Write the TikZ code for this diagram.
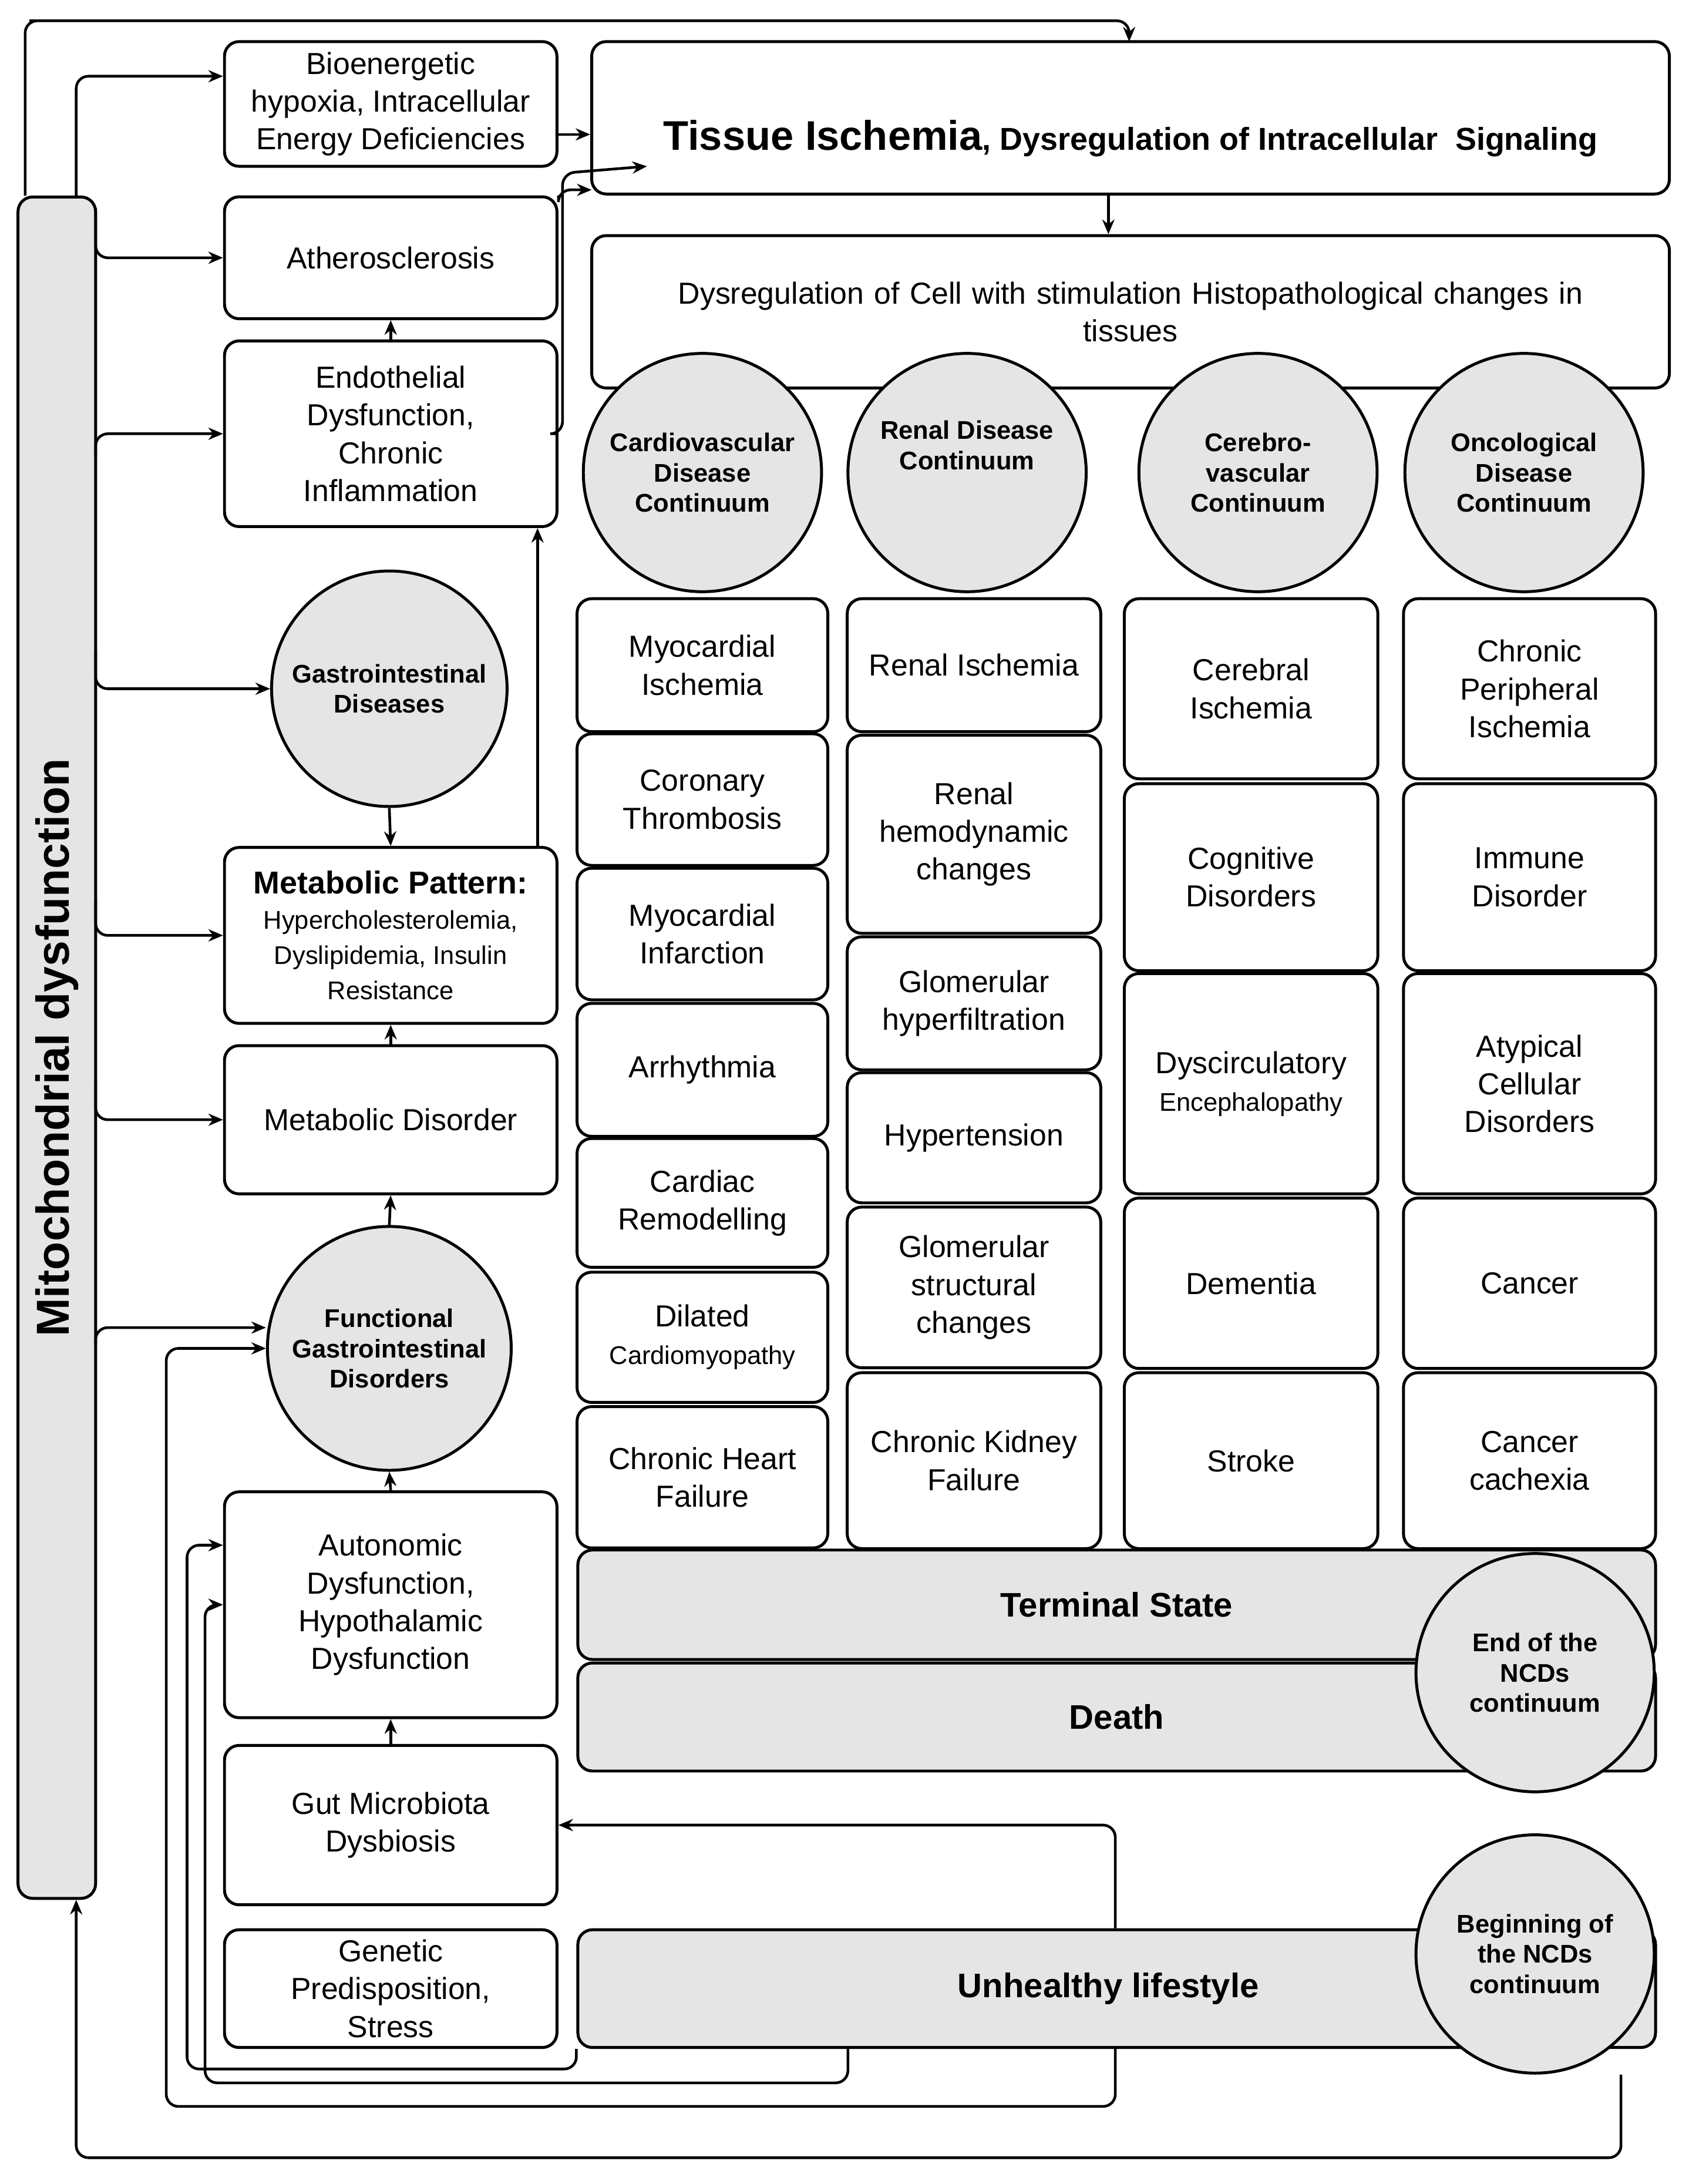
\documentclass[tikz,border=0pt]{standalone}
\usepackage{fontspec}
\setmainfont{Liberation Sans}
\usetikzlibrary{arrows.meta}
\begin{document}
\begin{tikzpicture}[x=0.02cm,y=-0.02cm,
  box/.style={draw,rounded corners=6pt,line width=1.2pt,align=center,inner sep=1pt,font=\fontsize{12.5}{15.5}\selectfont},
  gbox/.style={box,fill=gray!20},
  circ/.style={circle,draw,line width=1.2pt,fill=gray!20,align=center,inner sep=0pt,font=\fontsize{10.5}{12.5}\selectfont\bfseries},
  arr/.style={-{Stealth[length=6pt,width=5pt]},line width=1.1pt,rounded corners=5pt}]
\useasboundingbox (0,0) rectangle (1219,1576);
% mitochondrial bar
\node[gbox,minimum width=1.12cm,minimum height=24.56cm] (mito) at (41,756) {};
\node[rotate=90,font=\fontsize{19}{22}\selectfont\bfseries] at (41,756) {Mitochondrial dysfunction};
% left column
\node[box,minimum width=4.8cm,minimum height=1.8cm] (bio) at (282,75) {Bioenergetic\\hypoxia, Intracellular\\Energy Deficiencies};
\node[box,minimum width=4.8cm,minimum height=1.76cm] (ath) at (282,186) {Atherosclerosis};
\node[box,minimum width=4.8cm,minimum height=2.68cm] (endo) at (282,313) {Endothelial\\Dysfunction,\\Chronic\\Inflammation};
\node[circ,minimum size=3.4cm] (gi) at (281,497) {Gastrointestinal\\Diseases};
\node[box,minimum width=4.8cm,minimum height=2.54cm] (mp) at (282,675) {{\fontsize{13}{15}\selectfont\bfseries Metabolic Pattern:}\\[-1pt]{\fontsize{10.5}{11}\selectfont Hypercholesterolemia,}\\[-1pt]{\fontsize{10.5}{11}\selectfont Dyslipidemia, Insulin}\\[-1pt]{\fontsize{10.5}{11}\selectfont Resistance}};
\node[box,minimum width=4.8cm,minimum height=2.14cm] (md) at (282,808) {Metabolic Disorder};
\node[circ,minimum size=3.52cm] (fgi) at (281,973) {Functional\\Gastrointestinal\\Disorders};
\node[box,minimum width=4.8cm,minimum height=3.26cm] (auto) at (282,1158) {Autonomic\\Dysfunction,\\Hypothalamic\\Dysfunction};
\node[box,minimum width=4.8cm,minimum height=2.3cm] (gut) at (282,1317) {Gut Microbiota\\Dysbiosis};
\node[box,minimum width=4.8cm,minimum height=1.7cm] (gen) at (282,1435) {Genetic\\Predisposition,\\Stress};
% top boxes
\node[box,minimum width=15.56cm,minimum height=2.2cm] (tis) at (816,85) {};
\node[font=\fontsize{13}{15}\selectfont\bfseries] at (816,100) {{\fontsize{17}{20}\selectfont Tissue Ischemia}, Dysregulation of Intracellular\ \ Signaling};
\node[box,minimum width=15.56cm,minimum height=2.2cm] (dys) at (816,225) {};
\node[font=\fontsize{12.5}{15.5}\selectfont,align=center,text width=15.2cm] at (816,225) {Dysregulation of Cell with stimulation Histopathological changes in\\tissues};
% circles
\node[circ,minimum size=3.44cm] (c1) at (507,341) {Cardiovascular\\Disease\\Continuum};
\node[circ,minimum size=3.44cm] (c2) at (698,341) {Renal Disease\\Continuum\\[10pt]};
\node[circ,minimum size=3.44cm] (c3) at (908,341) {Cerebro-\\vascular\\Continuum};
\node[circ,minimum size=3.44cm] (c4) at (1100,341) {Oncological\\Disease\\Continuum};
% column 1
\node[box,minimum width=3.62cm,minimum height=1.92cm] (a1) at (507,480) {Myocardial\\Ischemia};
\node[box,minimum width=3.62cm,minimum height=1.9cm] (a2) at (507,577) {Coronary\\Thrombosis};
\node[box,minimum width=3.62cm,minimum height=1.9cm] (a3) at (507,674) {Myocardial\\Infarction};
\node[box,minimum width=3.62cm,minimum height=1.92cm] (a4) at (507,772) {Arrhythmia};
\node[box,minimum width=3.62cm,minimum height=1.86cm] (a5) at (507,868) {Cardiac\\Remodelling};
\node[box,minimum width=3.62cm,minimum height=1.88cm] (a6) at (507,965) {Dilated\\{\fontsize{10.5}{12.5}\selectfont Cardiomyopathy}};
\node[box,minimum width=3.62cm,minimum height=2.04cm] (a7) at (507,1066) {Chronic Heart\\Failure};
% column 2
\node[box,minimum width=3.66cm,minimum height=1.92cm] (b1) at (703,480) {Renal Ischemia};
\node[box,minimum width=3.66cm,minimum height=2.86cm] (b2) at (703,602) {Renal\\hemodynamic\\changes};
\node[box,minimum width=3.66cm,minimum height=1.92cm] (b3) at (703,724) {Glomerular\\hyperfiltration};
\node[box,minimum width=3.66cm,minimum height=1.88cm] (b4) at (703,821) {Hypertension};
\node[box,minimum width=3.66cm,minimum height=2.32cm] (b5) at (703,929) {Glomerular\\structural\\changes};
\node[box,minimum width=3.66cm,minimum height=2.54cm] (b6) at (703,1054) {Chronic Kidney\\Failure};
% column 3
\node[box,minimum width=3.66cm,minimum height=2.6cm] (d1) at (903,497) {Cerebral\\Ischemia};
\node[box,minimum width=3.66cm,minimum height=2.7cm] (d2) at (903,633) {Cognitive\\Disorders};
\node[box,minimum width=3.66cm,minimum height=3.18cm] (d3) at (903,782) {Dyscirculatory\\{\fontsize{10.5}{12.5}\selectfont Encephalopathy}};
\node[box,minimum width=3.66cm,minimum height=2.46cm] (d4) at (903,926) {Dementia};
\node[box,minimum width=3.66cm,minimum height=2.54cm] (d5) at (903,1054) {Stroke};
% column 4
\node[box,minimum width=3.64cm,minimum height=2.6cm] (e1) at (1104,497) {Chronic\\Peripheral\\Ischemia};
\node[box,minimum width=3.64cm,minimum height=2.7cm] (e2) at (1104,633) {Immune\\Disorder};
\node[box,minimum width=3.64cm,minimum height=3.18cm] (e3) at (1104,782) {Atypical\\Cellular\\Disorders};
\node[box,minimum width=3.64cm,minimum height=2.46cm] (e4) at (1104,926) {Cancer};
\node[box,minimum width=3.64cm,minimum height=2.54cm] (e5) at (1104,1054) {Cancer\\cachexia};
% terminal
\node[gbox,minimum width=15.56cm,minimum height=1.58cm] (term) at (806,1158) {};
\node[font=\fontsize{14}{16}\selectfont\bfseries] at (806,1158) {Terminal State};
\node[gbox,minimum width=15.56cm,minimum height=1.56cm] (death) at (806,1239) {};
\node[font=\fontsize{14}{16}\selectfont\bfseries] at (806,1239) {Death};
\node[circ,minimum size=3.44cm] (end) at (1108,1207) {End of the\\NCDs\\continuum};
\node[gbox,minimum width=15.56cm,minimum height=1.7cm] (unh) at (806,1435) {};
\node[font=\fontsize{14}{16}\selectfont\bfseries] at (800,1435) {Unhealthy lifestyle};
\node[circ,minimum size=3.44cm] (beg) at (1108,1410) {Beginning of\\the NCDs\\continuum};
% arrows from mitochondrial dysfunction
\draw[arr] ([xshift=-13pt]mito.north) |- (30,15) -| (815,30);
\draw[arr] (55,142) |- (bio.west|-0,55);
\draw[arr] (69,150) |- (ath.west);
\draw[arr] (69,330) |- (endo.west);
\draw[arr] (69,470) |- (gi.west);
\draw[arr] (69,650) |- (mp.west);
\draw[arr] (69,780) |- (md.west);
\draw[arr] (69,970) |- (fgi.west|-0,958);
\draw[arr] (bio.east|-0,97) -- (tis.west|-0,97);
\draw[arr] (ath.north east) |- (427,137);
\draw[arr] (endo.east) -| (406,125) -- (467,120);
\draw[arr] (tis.south-|800,0) -- (dys.north-|800,0);
\draw[arr] (endo.north) -- (ath.south);
\draw[arr] (gi.south) -- (mp.north);
\draw[arr] (mp.north east-|388,0) -- (endo.south east-|388,0);
\draw[arr] (md.north) -- (mp.south);
\draw[arr] (fgi.north) -- (md.south);
\draw[arr] (auto.north) -- (fgi.south);
\draw[arr] (gut.north) -- (auto.south);
% unhealthy lifestyle feedback
\draw[arr] (unh.north-|805,0) |- (gut.east);
\draw[arr] (unh.south-|805,0) |- (120,1520) |- (fgi.west|-0,973);
\draw[arr] (unh.south-|612,0) |- (148,1503) |- (auto.west|-0,1158);
\draw[arr] (unh.south west) |- (135,1493) |- (auto.west|-0,1115);
\draw[arr] (beg.south-|1170,0) |- (55,1557) -- (mito.south-|55,0);
\end{tikzpicture}
\end{document}
